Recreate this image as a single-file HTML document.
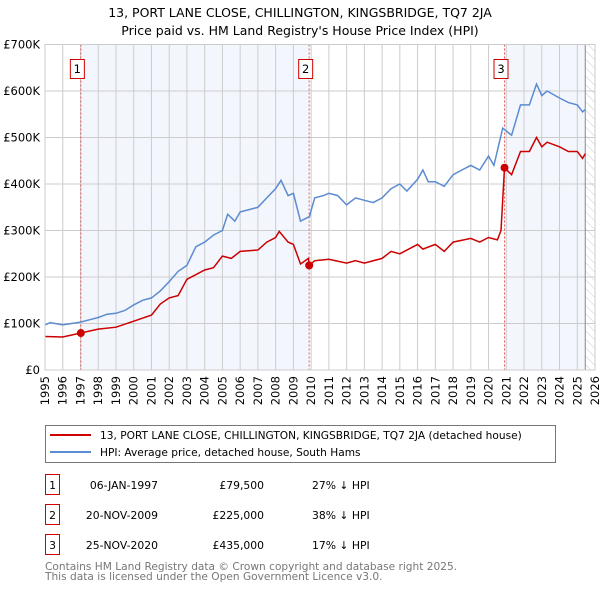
<!DOCTYPE html>
<html><head><meta charset="utf-8"><style>
body{margin:0;background:#fff;font-family:"Liberation Sans","DejaVu Sans",sans-serif;}
svg{display:block}
</style></head><body>
<svg id="c" width="600" height="590" viewBox="0 0 600 590" font-family="DejaVu Sans, Liberation Sans, sans-serif">
<defs><pattern id="hatch" width="6" height="6" patternUnits="userSpaceOnUse" patternTransform="rotate(-45)"><line x1="0" y1="0" x2="0" y2="6" stroke="#ccc" stroke-width="1"/></pattern></defs>
<text x="300" y="17" text-anchor="middle" font-size="12.5">13, PORT LANE CLOSE, CHILLINGTON, KINGSBRIDGE, TQ7 2JA</text>
<text x="300" y="35" text-anchor="middle" font-size="12.5">Price paid vs. HM Land Registry's House Price Index (HPI)</text>
<g id="plot"></g>
<g>
<rect x="45.5" y="425.5" width="510" height="37" fill="#fff" stroke="#777"/>
<line x1="50" y1="435" x2="91" y2="435" stroke="#cc0000" stroke-width="2"/>
<text x="100" y="439" font-size="10.6">13, PORT LANE CLOSE, CHILLINGTON, KINGSBRIDGE, TQ7 2JA (detached house)</text>
<line x1="50" y1="452" x2="91" y2="452" stroke="#5b8bd0" stroke-width="2"/>
<text x="100" y="456" font-size="10.6">HPI: Average price, detached house, South Hams</text>
</g>
<g font-size="10.8" id="tbl"></g>
<text x="45" y="570" font-size="10.6" fill="#777">Contains HM Land Registry data © Crown copyright and database right 2025.</text>
<text x="45" y="580" font-size="10.6" fill="#777">This data is licensed under the Open Government Licence v3.0.</text>
</svg>
<script>
const hpiYears=[1995,1995.3,1996,1996.5,1997,1997.5,1998,1998.5,1999,1999.5,2000,2000.5,2001,2001.5,2002,2002.5,2003,2003.5,2004,2004.5,2005,2005.3,2005.7,2006,2006.5,2007,2007.5,2008,2008.3,2008.7,2009,2009.4,2009.9,2010.2,2010.7,2011,2011.5,2012,2012.5,2013,2013.5,2014,2014.5,2015,2015.4,2016,2016.3,2016.6,2017,2017.5,2018,2018.5,2019,2019.5,2020,2020.3,2020.8,2021.3,2021.8,2022.3,2022.7,2023,2023.3,2024,2024.5,2025,2025.3,2025.45];
const hpiValues=[97,102,97,100,103,108,113,120,122,128,140,150,155,170,190,212,225,265,275,290,300,335,320,340,345,350,370,390,408,375,380,320,330,370,375,380,375,355,370,365,360,370,390,400,385,410,430,405,405,395,420,430,440,430,460,440,520,505,570,570,615,590,600,585,575,570,555,560];
const ppYears=[1995,1996,1997.02,1998,1999,2000,2001,2001.5,2002,2002.5,2003,2003.5,2004,2004.5,2005,2005.5,2006,2007,2007.5,2008,2008.2,2008.7,2009,2009.4,2009.85,2009.89,2010.2,2011,2012,2012.5,2013,2014,2014.5,2015,2016,2016.3,2017,2017.5,2018,2019,2019.5,2020,2020.5,2020.7,2020.9,2021.3,2021.8,2022.3,2022.7,2023,2023.3,2024,2024.5,2025,2025.3,2025.45];
const ppValues=[72,71,79.5,88,92,105,118,142,155,160,195,205,215,220,245,240,255,258,275,285,298,275,270,228,240,225,235,238,230,235,230,240,255,250,270,260,270,255,275,283,275,285,280,300,435,420,470,470,500,480,490,480,470,470,455,465];
const saleYears=[1997.02,2009.89,2020.9];
const saleValues=[79.5,225,435];
const saleLabels=["1","2","3"];
const saleDates=["06-JAN-1997","20-NOV-2009","25-NOV-2020"];
const salePrices=["£79,500","£225,000","£435,000"];
const saleDiffs=["27% ↓ HPI","38% ↓ HPI","17% ↓ HPI"];
const yTicks=[0,100,200,300,400,500,600,700];
const yTickLabels=["£0","£100K","£200K","£300K","£400K","£500K","£600K","£700K"];
const xTicks=[1995,1996,1997,1998,1999,2000,2001,2002,2003,2004,2005,2006,2007,2008,2009,2010,2011,2012,2013,2014,2015,2016,2017,2018,2019,2020,2021,2022,2023,2024,2025,2026];

const L=45,R=595,T=44.5,B=370,X0=1995,X1=2026,Ymax=700;
const xs=v=>L+(v-X0)/(X1-X0)*(R-L);
const ys=v=>B-v/Ymax*(B-T);
const NS="http://www.w3.org/2000/svg";
const plot=document.getElementById('plot');
function mk(tag,attrs,parent){const e=document.createElementNS(NS,tag);for(const k in attrs)e.setAttribute(k,attrs[k]);(parent||plot).appendChild(e);return e;}
let bg=mk('rect',{x:L,y:T,width:R-L,height:B-T,fill:'#fff'});


let s1=mk('rect',{x:xs(saleYears[0]),y:T,width:xs(saleYears[1])-xs(saleYears[0]),height:B-T,fill:'#eef3fc',opacity:0.7});


let s2=mk('rect',{x:xs(saleYears[2]),y:T,width:xs(2025.45)-xs(saleYears[2]),height:B-T,fill:'#eef3fc',opacity:0.7});


let ht=mk('rect',{x:xs(2025.45),y:T,width:R-xs(2025.45),height:B-T,fill:'url(#hatch)'});


xTicks.forEach((t,i)=>{
 let g=mk('line',{x1:xs(t),x2:xs(t),y1:T,y2:B,stroke:'#ccc','stroke-width':1});
 
 
 let tx=mk('text',{x:0,y:0,'font-size':11.5,'text-anchor':'end',transform:`translate(${xs(t)+4},${B+6}) rotate(-90)`});
 tx.textContent=t;
 
 
});
yTicks.forEach((t,i)=>{
 let g=mk('line',{x1:L,x2:R,y1:ys(t),y2:ys(t),stroke:'#ccc','stroke-width':1});
 
 
 let tx=mk('text',{x:L-5,y:ys(t)+4,'font-size':11.5,'text-anchor':'end'});
 tx.textContent=yTickLabels[i];
 
 
});
let vl=mk('line',{x1:xs(2025.45),x2:xs(2025.45),y1:T,y2:B,stroke:'#888','stroke-width':1});


saleYears.forEach((y,i)=>{
 let l=mk('line',{x1:xs(y),x2:xs(y),y1:T,y2:B,stroke:'#e55','stroke-width':1,'stroke-dasharray':'2,2'});
 
 
 let r=mk('rect',{x:xs(y)-10.5,y:59.5,width:14,height:19,fill:'#fff',stroke:'#c00'});
 
 
 let t=mk('text',{x:xs(y)-3.5,y:73,'font-size':11.5,'text-anchor':'middle'});
 t.textContent=saleLabels[i];
 
 
});
let hp=mk('path',{d:hpiYears.map((y,i)=>(i?'L':'M')+xs(y).toFixed(1)+','+ys(hpiValues[i]).toFixed(1)).join(''),fill:'none',stroke:'#5b8bd0','stroke-width':1.5});


let pp=mk('path',{d:ppYears.map((y,i)=>(i?'L':'M')+xs(y).toFixed(1)+','+ys(ppValues[i]).toFixed(1)).join(''),fill:'none',stroke:'#cc0000','stroke-width':1.5});


saleYears.forEach((y,i)=>{
 let c=mk('circle',{cx:xs(y),cy:ys(saleValues[i]),r:4,fill:'#cc0000'});
 
 
});
let ax=mk('rect',{x:L,y:T,width:R-L,height:B-T,fill:'none',stroke:'#ccc'});


const tbl=document.getElementById('tbl');
saleYears.forEach((y,i)=>{
 const cy=483+i*30;
 let r=mk('rect',{x:45.5,y:cy-8.5,width:14,height:20,fill:'#fff',stroke:'#c00'},tbl);
 
 
 let a=mk('text',{x:52.5,y:cy+6,'text-anchor':'middle'},tbl);a.textContent=saleLabels[i];
 
 
 let d=mk('text',{x:158,y:cy+6,'text-anchor':'end'},tbl);d.textContent=saleDates[i];
 
 
 let p=mk('text',{x:264,y:cy+6,'text-anchor':'end'},tbl);p.textContent=salePrices[i];
 
 
 let h=mk('text',{x:312,y:cy+6},tbl);h.textContent=saleDiffs[i];
 
 
});
</script>
</body></html>
